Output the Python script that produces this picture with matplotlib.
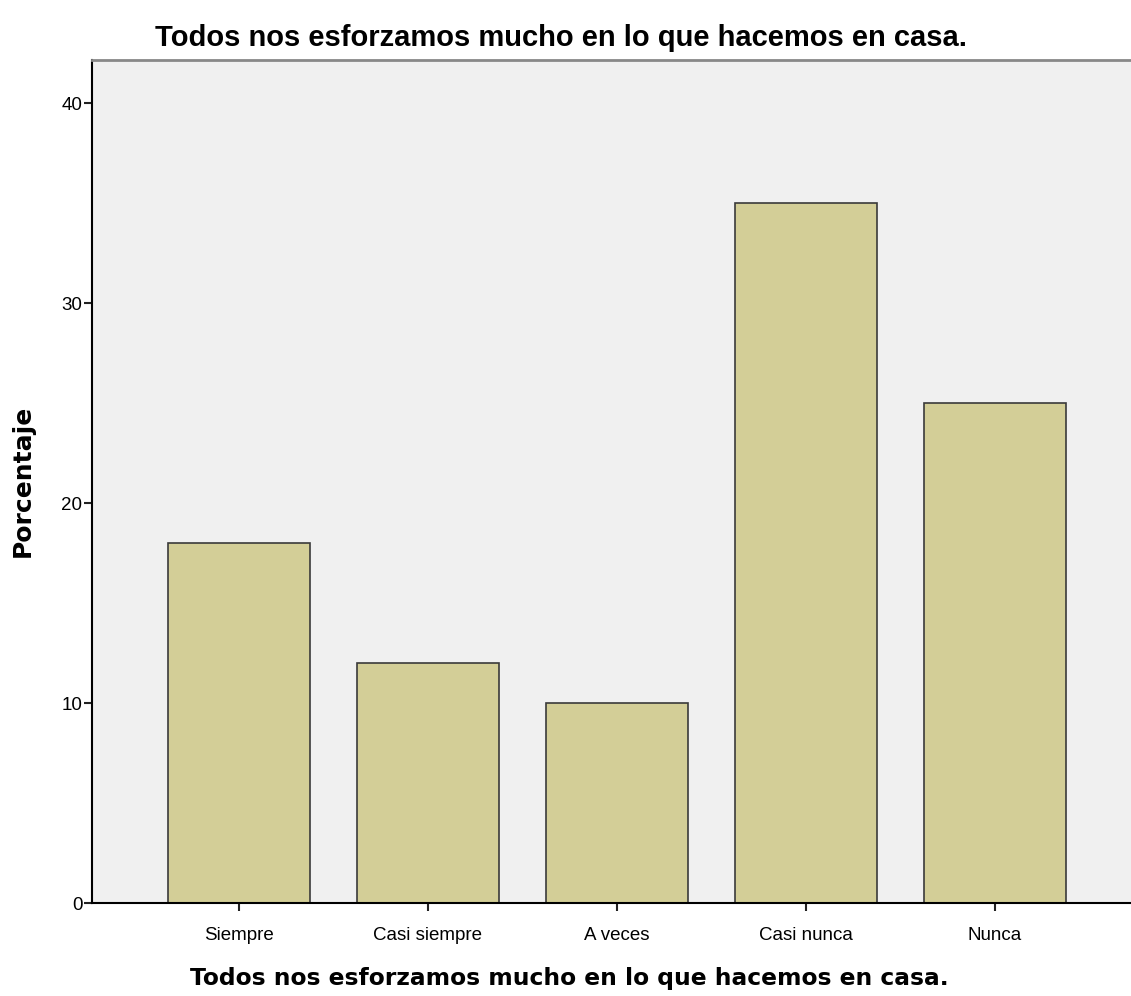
import matplotlib
matplotlib.use("Agg")
import matplotlib.pyplot as plt

categories = ["Siempre", "Casi siempre", "A veces", "Casi nunca", "Nunca"]
values = [18, 12, 10, 35, 25]
yticks = [0, 10, 20, 30, 40]
title = "Todos nos esforzamos mucho en lo que hacemos en casa."

fig = plt.figure(figsize=(11.31, 9.96), dpi=100)
ax = fig.add_axes([92/1131, 93/996, 1 - 92/1131 + 0.01, (903-60)/996])
ax.set_facecolor("#f0f0f0")
x = list(range(len(categories)))
ax.bar(x, values, width=0.75, color="#d3ce97", edgecolor="#3a3a3a", linewidth=1.2, zorder=2)
ax.set_xlim(-0.778, 4.78)
ax.set_ylim(0, 42.15)
ax.set_yticks(yticks)
ax.set_yticklabels([str(t) for t in yticks], fontsize=13.5, family="Liberation Sans")
ax.set_xticks(x)
ax.set_xticklabels(categories, fontsize=13.5, family="Liberation Sans")
ax.tick_params(axis="both", direction="out", length=6, width=1.5, color="#222222")
ax.tick_params(axis="x", pad=11)
ax.tick_params(axis="y", pad=1)
ax.spines["top"].set_color("#888888")
ax.spines["top"].set_linewidth(2)
ax.spines["right"].set_visible(False)
ax.spines["left"].set_linewidth(1.5)
ax.spines["bottom"].set_linewidth(1.5)
fig.text(561/1131, 1 - 38/996, title, ha="center", va="center", fontsize=21,
         fontweight="bold", family="Liberation Sans")
fig.text(569/1131, 1 - 978/996, title, ha="center", va="center", fontsize=16.8,
         fontweight="bold", family="DejaVu Sans")
fig.text(23/1131, 1 - 481/996, "Porcentaje", ha="center", va="center", rotation=90,
         fontsize=18, fontweight="bold", family="DejaVu Sans")
fig.savefig("out.png", dpi=100)
